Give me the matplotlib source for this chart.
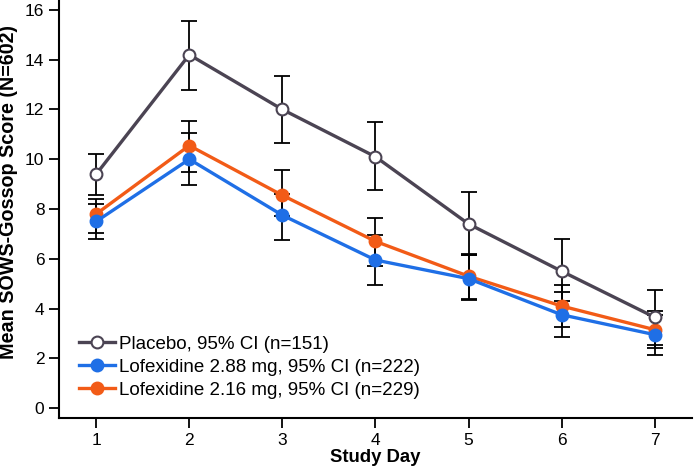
import matplotlib
matplotlib.use("Agg")
import matplotlib.pyplot as plt
import numpy as np

plt.rcParams['font.family'] = ['Liberation Sans', 'DejaVu Sans']

# Study days
days = [1, 2, 3, 4, 5, 6, 7]

# Placebo mean and 95% CI
placebo_mean = [9.4, 14.2, 12.0, 10.1, 7.4, 5.5, 3.65]
placebo_lo = [8.55, 12.8, 10.65, 8.75, 6.15, 4.3, 2.55]
placebo_hi = [10.2, 15.55, 13.35, 11.5, 8.7, 6.8, 4.75]

# Lofexidine 2.88 mg mean and 95% CI
lofex288_mean = [7.5, 10.0, 7.75, 5.95, 5.2, 3.75, 2.95]
lofex288_lo = [6.8, 8.95, 6.75, 4.95, 4.35, 2.85, 2.15]
lofex288_hi = [8.2, 11.05, 8.6, 6.95, 6.15, 4.65, 3.75]

# Lofexidine 2.16 mg mean and 95% CI
lofex216_mean = [7.8, 10.55, 8.55, 6.7, 5.3, 4.1, 3.15]
lofex216_lo = [7.05, 9.5, 7.7, 5.7, 4.4, 3.25, 2.4]
lofex216_hi = [8.4, 11.55, 9.55, 7.65, 6.2, 4.95, 3.9]

labels = ['Placebo, 95% CI (n=151)',
          'Lofexidine 2.88 mg, 95% CI (n=222)',
          'Lofexidine 2.16 mg, 95% CI (n=229)']
colors = ['#4b4453', '#1f6fe6', '#f25b17']

fig = plt.figure(figsize=(6.94, 4.71), dpi=100)
ax = fig.add_axes([0.085, 0.1125, 0.912, 0.8875])

series = [
    (placebo_mean, placebo_lo, placebo_hi),
    (lofex288_mean, lofex288_lo, lofex288_hi),
    (lofex216_mean, lofex216_lo, lofex216_hi),
]

# error bars first, then lines and markers on top
for mean, lo, hi in series:
    mean = np.array(mean)
    yerr = [mean - np.array(lo), np.array(hi) - mean]
    ax.errorbar(days, mean, yerr=yerr, fmt='none', ecolor='black',
                elinewidth=1.3, capsize=5.5, capthick=1.3, zorder=2)

handles = []
for i, (mean, lo, hi) in enumerate(series):
    face = 'white' if i == 0 else colors[i]
    h, = ax.plot(days, mean, '-o', color=colors[i], lw=2.4, ms=8.5,
                 mfc=face, mec=colors[i], mew=1.5, label=labels[i],
                 zorder=3 + (2 - i))
    handles.append(h)

ax.set_xlim(0.6, 7.4)
ax.set_ylim(-0.4, 16.4)
ax.set_xticks(days)
ax.set_yticks(range(0, 17, 2))
ax.tick_params(axis='both', labelsize=12.5, length=7, width=1.3, direction='out')
for s in ['top', 'right']:
    ax.spines[s].set_visible(False)
for s in ['left', 'bottom']:
    ax.spines[s].set_linewidth(1.5)

ax.set_xlabel('Study Day', fontsize=13.3, fontweight='bold', labelpad=1)
ax.set_ylabel('Mean SOWS-Gossop Score (N=602)', fontsize=14.2,
              fontweight='bold')
ax.yaxis.set_label_coords(-0.064, 0.54)

ax.legend(handles=handles, loc='lower left', bbox_to_anchor=(0.011, 0.014),
          frameon=False, fontsize=13.5, handlelength=1.9, handletextpad=0.25,
          labelspacing=0.32, borderpad=0.2)

fig.savefig('out.png', dpi=100)
